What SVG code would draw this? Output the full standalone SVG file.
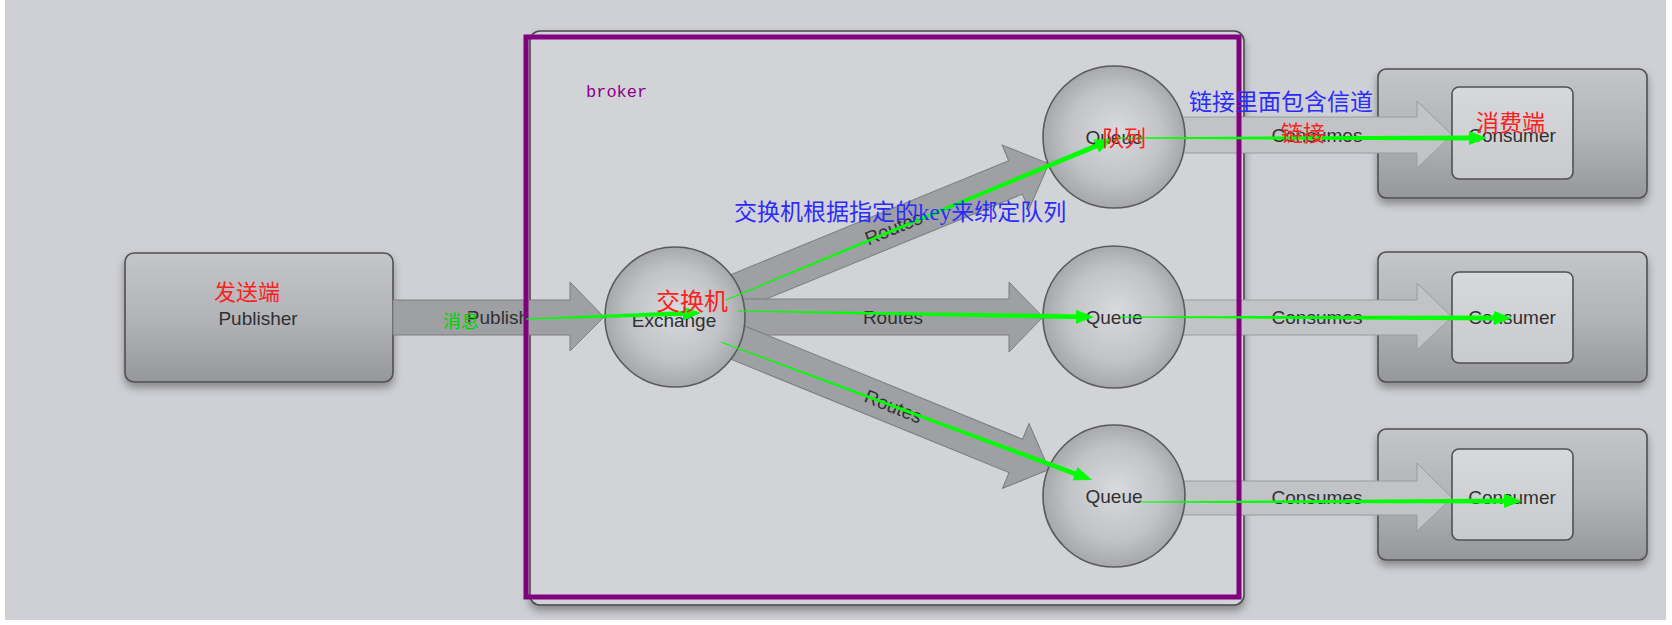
<svg xmlns="http://www.w3.org/2000/svg" width="1672" height="625" viewBox="0 0 1672 625">
<style>
.lbl{font-family:"Liberation Sans",Arial,sans-serif;font-size:19px;fill:#303032;text-anchor:middle}
.box{fill:url(#boxGrad);stroke:#505052;stroke-width:1.6}
.inner{fill:url(#innerGrad);stroke:#505052;stroke-width:1.6}
.circ{fill:url(#circGrad);stroke:#5a5a5c;stroke-width:1.6}
.route{fill:#9fa0a4;stroke:#7c7d80;stroke-width:1}
.cons{fill:#c2c3c7;stroke:#9a9b9e;stroke-width:1}
.grn{fill:#00ff00}
.red{font-family:"Liberation Serif","Noto Sans CJK SC",serif;fill:#ff2020}
.blue{font-family:"Liberation Serif","Noto Sans CJK SC",serif;fill:#2b2bff;font-size:23px}
</style>
<defs>
<linearGradient id="boxGrad" x1="0" y1="0" x2="0" y2="1">
<stop offset="0" stop-color="#c4c5c9"/><stop offset="0.5" stop-color="#b3b4b8"/><stop offset="1" stop-color="#96979b"/>
</linearGradient>
<linearGradient id="innerGrad" x1="0" y1="0" x2="0" y2="1">
<stop offset="0" stop-color="#d7d8dc"/><stop offset="1" stop-color="#c9cace"/>
</linearGradient>
<radialGradient id="circGrad" cx="0.5" cy="0.5" r="0.55" fx="0.52" fy="0.45">
<stop offset="0" stop-color="#d9dadd"/><stop offset="0.6" stop-color="#c2c3c7"/><stop offset="1" stop-color="#9fa0a4"/>
</radialGradient>
<filter id="sh" x="-10%" y="-10%" width="120%" height="130%">
<feDropShadow dx="0" dy="5" stdDeviation="4" flood-color="#000" flood-opacity="0.35"/>
</filter>
</defs>
<rect x="0" y="0" width="1672" height="625" fill="#ffffff"/>
<rect x="5" y="0" width="1661" height="620" fill="#cfd0d5"/>

<g id="broker">
<rect x="530" y="31" width="714" height="574" rx="10" fill="#d2d3d7" stroke="#4a4a4c" stroke-width="1.6" filter="url(#sh)"/>
</g>

<g id="publisher">
<rect class="box" x="125" y="253" width="268" height="129" rx="9" filter="url(#sh)"/>
<text class="lbl" x="258" y="325">Publisher</text>
</g>

<g id="connectors">
<polygon class="route" points="393,300 570,300 570,282 604,317 570,351 570,335 393,335" fill="#96979b"/>
<text class="lbl" x="498" y="324">Publish</text>
<g transform="translate(675,317) rotate(-22.29)">
<polygon class="route" points="40,-18 368,-18 368,-35 404,0 368,35 368,18 40,18"/>
<text class="lbl" x="236" y="7">Routes</text>
</g>
<g transform="translate(675,317)">
<polygon class="route" points="40,-18 334,-18 334,-35 368,0 334,35 334,18 40,18"/>
<text class="lbl" x="218" y="7">Routes</text>
</g>
<g transform="translate(675,317) rotate(22.18)">
<polygon class="route" points="40,-18 368,-18 368,-35 404,0 368,35 368,18 40,18"/>
<text class="lbl" x="236" y="7">Routes</text>
</g>
</g>

<g id="exchange">
<circle class="circ" cx="675" cy="317" r="70"/>
<text class="lbl" x="674" y="327">Exchange</text>
</g>

<g id="consumer1">
<rect class="box" x="1378" y="69" width="269" height="129" rx="8" filter="url(#sh)"/>
<polygon class="cons" points="1150,117 1417,117 1417,101 1452,135 1417,168 1417,153 1150,153"/>
<text class="lbl" x="1317" y="142">Consumes</text>
<rect class="inner" x="1452" y="87" width="121" height="92" rx="7"/>
<text class="lbl" x="1512" y="142">Consumer</text>
</g>
<g id="consumer2">
<rect class="box" x="1378" y="252" width="269" height="130" rx="8" filter="url(#sh)"/>
<polygon class="cons" points="1150,300 1417,300 1417,283 1452,317 1417,350 1417,335 1150,335"/>
<text class="lbl" x="1317" y="324">Consumes</text>
<rect class="inner" x="1452" y="272" width="121" height="91" rx="7"/>
<text class="lbl" x="1512" y="324">Consumer</text>
</g>
<g id="consumer3">
<rect class="box" x="1378" y="429" width="269" height="131" rx="8" filter="url(#sh)"/>
<polygon class="cons" points="1150,481 1417,481 1417,463 1452,498 1417,531 1417,515 1150,515"/>
<text class="lbl" x="1317" y="504">Consumes</text>
<rect class="inner" x="1452" y="449" width="121" height="91" rx="7"/>
<text class="lbl" x="1512" y="504">Consumer</text>
</g>

<g id="queue1">
<circle class="circ" cx="1114" cy="137" r="71"/>
<text class="lbl" x="1114" y="144">Queue</text>
</g>
<g id="queue2">
<circle class="circ" cx="1114" cy="317" r="71"/>
<text class="lbl" x="1114" y="324">Queue</text>
</g>
<g id="queue3">
<circle class="circ" cx="1114" cy="496" r="71"/>
<text class="lbl" x="1114" y="503">Queue</text>
</g>

<g id="broker-frame">
<rect x="526" y="37" width="713" height="560" fill="none" stroke="#800080" stroke-width="5"/>
<text x="586" y="97" font-family="Liberation Mono,monospace" font-size="17" fill="#8a008a">broker</text>
</g>

<g id="annotation-arrows">
<polygon class="grn" points="526,318.5 683,311.1 683,306.6 701,313 683,320.6 683,316.1 526,319.5"/>
<polygon class="grn" points="725.8,299.5 1095.4,143.6 1093.7,139.4 1113,139 1099.1,152.4 1097.4,148.2 726.2,300.5"/>
<polygon class="grn" points="738,310.5 1076,314.2 1076,309.7 1094,317 1076,323.7 1076,319.2 738,311.5"/>
<polygon class="grn" points="721.2,341.5 1076,471.4 1077.5,467.1 1092,480 1072.7,480.3 1074.2,476 720.8,342.5"/>
<polygon class="grn" points="1115,137.5 1469,135.5 1469,131 1487,138 1469,145 1469,140.5 1115,138.5"/>
<polygon class="grn" points="1120,316.5 1494,315.4 1494,311 1512,318 1494,325 1494,320.4 1120,317.5"/>
<polygon class="grn" points="1140,501.5 1504,498.6 1504,494 1522,501 1504,508 1504,503.6 1140,502.5"/>
</g>

<g id="annotations">
<text class="red" x="214" y="300" font-size="22">发送端</text>
<text class="red" x="656" y="310" font-size="24">交换机</text>
<text x="443" y="328" font-family="Liberation Serif,'Noto Sans CJK SC',serif" font-size="18" fill="#00d000">消息</text>
<text class="blue" x="734" y="220">交换机根据指定的key来绑定队列</text>
<text class="blue" x="1189" y="110">链接里面包含信道</text>
<text class="red" x="1102" y="146" font-size="22">队列</text>
<text class="red" x="1281" y="141" font-size="22">链接</text>
<text class="red" x="1476" y="131" font-size="23">消费端</text>
</g>
</svg>
